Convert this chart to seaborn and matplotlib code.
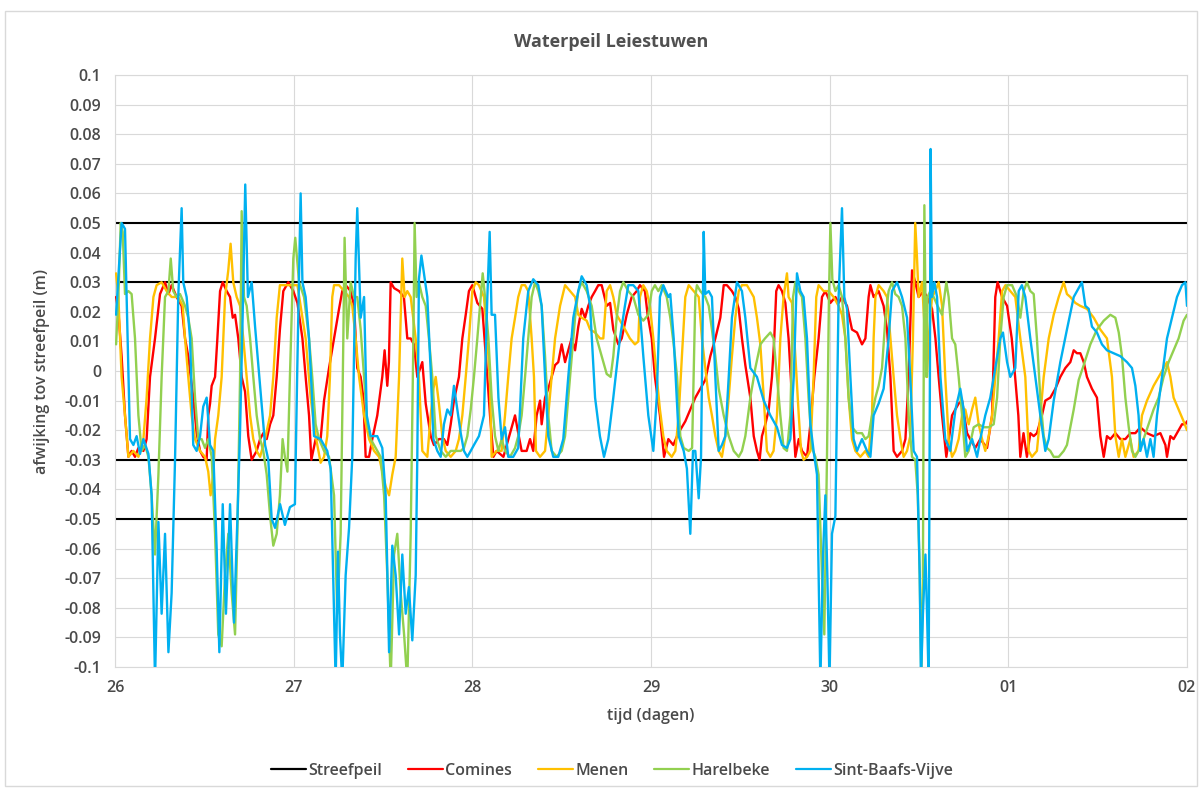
import matplotlib
matplotlib.use("Agg")
import matplotlib.pyplot as plt
from matplotlib.lines import Line2D
from matplotlib.patches import Rectangle
import numpy as np
import pandas as pd
import seaborn as sns

# ---------------- data (time in days since the 26th, level deviation in m) ----------------
x_tick_labels = ["26", "27", "28", "29", "30", "01", "02"]
y_tick_values = [-0.1, -0.09, -0.08, -0.07, -0.06, -0.05, -0.04, -0.03, -0.02, -0.01, 0.0,
                 0.01, 0.02, 0.03, 0.04, 0.05, 0.06, 0.07, 0.08, 0.09, 0.1]
y_tick_labels = ["-0.1", "-0.09", "-0.08", "-0.07", "-0.06", "-0.05", "-0.04", "-0.03", "-0.02", "-0.01", "0",
                 "0.01", "0.02", "0.03", "0.04", "0.05", "0.06", "0.07", "0.08", "0.09", "0.1"]

streefpeil_levels = [0.05, 0.03, -0.03, -0.05]
streefpeil_t = [0.0, 6.0]

comines_t = [0.006,0.019,0.037,0.056,0.075,0.093,0.112,0.131,0.159,0.177,0.196,0.224,0.252,0.280,0.299,0.317,0.345,0.373,0.392,0.410,0.438,0.457,0.476,0.494,0.513,0.522,0.532,0.541,0.560,0.573,0.588,0.603,0.625,0.644,0.659,0.672,0.690,0.709,0.728,0.746,0.765,0.793,0.812,0.830,0.849,0.868,0.886,0.905,0.923,0.942,0.970,0.998,1.021,1.049,1.067,1.086,1.099,1.123,1.151,1.170,1.198,1.226,1.254,1.272,1.291,1.319,1.338,1.356,1.375,1.390,1.403,1.422,1.440,1.468,1.496,1.509,1.524,1.533,1.543,1.562,1.590,1.617,1.636,1.655,1.673,1.692,1.720,1.739,1.767,1.785,1.813,1.841,1.860,1.879,1.897,1.925,1.944,1.963,1.981,2.000,2.028,2.056,2.084,2.099,2.118,2.136,2.174,2.211,2.239,2.257,2.276,2.304,2.323,2.341,2.360,2.379,2.388,2.407,2.425,2.444,2.463,2.481,2.500,2.519,2.537,2.556,2.575,2.593,2.612,2.631,2.649,2.668,2.687,2.705,2.724,2.752,2.771,2.789,2.817,2.836,2.864,2.892,2.920,2.938,2.966,2.981,3.004,3.022,3.050,3.073,3.097,3.125,3.153,3.192,3.220,3.248,3.276,3.304,3.332,3.360,3.388,3.407,3.425,3.453,3.472,3.491,3.509,3.528,3.556,3.575,3.593,3.608,3.621,3.640,3.659,3.677,3.690,3.701,3.714,3.733,3.752,3.770,3.789,3.808,3.827,3.845,3.873,3.892,3.914,3.938,3.957,3.976,4.004,4.032,4.050,4.069,4.097,4.125,4.153,4.181,4.200,4.218,4.228,4.246,4.274,4.302,4.321,4.340,4.358,4.377,4.405,4.424,4.442,4.461,4.479,4.498,4.526,4.545,4.573,4.592,4.610,4.629,4.653,4.672,4.685,4.703,4.722,4.741,4.769,4.787,4.815,4.843,4.881,4.909,4.927,4.940,4.965,4.993,5.019,5.038,5.056,5.067,5.085,5.104,5.123,5.142,5.160,5.188,5.207,5.235,5.263,5.291,5.319,5.347,5.366,5.384,5.403,5.422,5.440,5.468,5.496,5.515,5.534,5.552,5.571,5.599,5.627,5.655,5.683,5.711,5.739,5.776,5.813,5.851,5.879,5.888,5.907,5.925,5.944,5.972,5.991,6.000]
comines_v = [0.025,0.020,0.005,-0.015,-0.029,-0.027,-0.029,-0.026,-0.027,-0.023,-0.002,0.011,0.026,0.030,0.026,0.029,0.025,0.022,0.011,0.005,-0.009,-0.021,-0.027,-0.029,-0.030,-0.015,-0.011,-0.005,-0.002,0.011,0.027,0.030,0.027,0.025,0.018,0.019,0.011,-0.002,-0.007,-0.022,-0.030,-0.027,-0.023,-0.021,-0.023,-0.018,-0.015,-0.002,0.014,0.027,0.030,0.027,0.023,0.011,-0.002,-0.015,-0.030,-0.023,-0.023,-0.010,0.001,0.011,0.021,0.027,0.029,0.027,0.022,0.001,-0.002,-0.009,-0.029,-0.029,-0.023,-0.015,-0.002,0.007,-0.005,0.003,0.030,0.028,0.027,0.025,0.011,0.011,0.009,-0.002,0.003,-0.011,-0.022,-0.025,-0.023,-0.023,-0.025,-0.018,-0.010,-0.002,0.011,0.019,0.027,0.029,0.023,0.021,-0.002,-0.015,-0.029,-0.027,-0.029,-0.021,-0.015,-0.021,-0.027,-0.027,-0.023,-0.027,-0.015,-0.010,-0.018,-0.009,-0.006,-0.002,0.002,0.003,0.009,0.003,0.007,0.011,0.007,0.015,0.021,0.018,0.022,0.025,0.027,0.029,0.029,0.022,0.023,0.014,0.009,0.011,0.019,0.025,0.027,0.029,0.027,0.019,0.011,-0.002,-0.015,-0.029,-0.023,-0.025,-0.021,-0.017,-0.013,-0.009,-0.006,-0.003,0.005,0.011,0.018,0.029,0.029,0.027,0.025,0.021,0.011,0.002,-0.009,-0.022,-0.027,-0.030,-0.022,-0.018,-0.013,-0.002,0.011,0.027,0.029,0.027,0.023,0.011,-0.009,-0.029,-0.023,-0.027,-0.029,-0.018,-0.002,0.011,0.025,0.027,0.023,0.025,0.023,0.025,0.022,0.014,0.013,0.009,0.011,0.025,0.029,0.025,0.027,0.022,0.014,-0.002,-0.027,-0.029,-0.027,-0.023,-0.002,0.034,0.030,0.025,0.027,0.025,0.021,0.011,-0.002,-0.015,-0.029,-0.021,-0.015,-0.013,-0.011,-0.010,-0.021,-0.023,-0.026,-0.023,-0.026,-0.015,0.025,0.030,0.025,0.022,0.011,-0.002,-0.015,-0.029,-0.021,-0.029,-0.021,-0.022,-0.021,-0.015,-0.010,-0.009,-0.006,-0.002,0.001,0.003,0.007,0.006,0.006,0.003,-0.002,-0.006,-0.009,-0.022,-0.029,-0.022,-0.023,-0.021,-0.023,-0.023,-0.021,-0.021,-0.019,-0.021,-0.022,-0.021,-0.025,-0.029,-0.022,-0.023,-0.021,-0.018,-0.018,-0.017]

menen_t = [0.006,0.019,0.037,0.056,0.075,0.103,0.131,0.159,0.177,0.196,0.215,0.233,0.261,0.289,0.317,0.354,0.379,0.392,0.410,0.429,0.448,0.476,0.504,0.522,0.535,0.550,0.560,0.578,0.597,0.616,0.634,0.647,0.662,0.681,0.700,0.718,0.737,0.756,0.774,0.793,0.812,0.840,0.868,0.886,0.905,0.923,0.961,0.998,1.021,1.039,1.067,1.095,1.123,1.151,1.170,1.188,1.203,1.216,1.226,1.254,1.282,1.310,1.328,1.347,1.366,1.394,1.422,1.450,1.478,1.496,1.515,1.534,1.552,1.571,1.590,1.608,1.621,1.636,1.655,1.683,1.701,1.720,1.748,1.767,1.782,1.795,1.813,1.832,1.851,1.879,1.907,1.925,1.944,1.963,1.981,2.000,2.019,2.037,2.065,2.084,2.099,2.108,2.136,2.164,2.183,2.201,2.220,2.239,2.257,2.276,2.295,2.313,2.332,2.345,2.356,2.379,2.407,2.425,2.444,2.463,2.491,2.519,2.547,2.575,2.593,2.612,2.640,2.659,2.687,2.715,2.733,2.752,2.771,2.789,2.808,2.827,2.855,2.882,2.910,2.929,2.938,2.957,2.976,2.994,3.013,3.032,3.050,3.069,3.088,3.116,3.136,3.155,3.173,3.192,3.211,3.239,3.267,3.285,3.304,3.323,3.341,3.360,3.379,3.397,3.416,3.435,3.453,3.472,3.491,3.509,3.537,3.556,3.575,3.593,3.612,3.631,3.649,3.668,3.686,3.705,3.724,3.742,3.761,3.770,3.789,3.808,3.827,3.840,3.854,3.873,3.892,3.910,3.925,3.938,3.966,3.994,4.022,4.050,4.069,4.088,4.106,4.125,4.144,4.172,4.200,4.218,4.237,4.246,4.256,4.274,4.302,4.321,4.340,4.358,4.377,4.396,4.414,4.433,4.451,4.466,4.479,4.489,4.498,4.517,4.535,4.545,4.554,4.573,4.592,4.610,4.629,4.647,4.666,4.685,4.703,4.722,4.741,4.759,4.778,4.797,4.815,4.834,4.853,4.871,4.890,4.909,4.927,4.946,4.965,4.984,5.011,5.039,5.067,5.095,5.114,5.132,5.160,5.179,5.198,5.226,5.254,5.282,5.310,5.328,5.347,5.375,5.403,5.440,5.478,5.515,5.552,5.580,5.599,5.618,5.636,5.655,5.683,5.701,5.729,5.748,5.776,5.813,5.851,5.888,5.907,5.925,5.953,5.981,6.000]
menen_v = [0.033,0.025,-0.002,-0.015,-0.029,-0.027,-0.029,-0.023,-0.009,0.011,0.025,0.029,0.030,0.027,0.025,0.025,0.022,0.011,-0.002,-0.015,-0.023,-0.027,-0.029,-0.034,-0.042,-0.035,-0.023,-0.015,-0.002,0.025,0.034,0.043,0.030,0.025,0.022,0.011,-0.002,-0.015,-0.023,-0.027,-0.029,-0.023,-0.015,-0.002,0.018,0.029,0.029,0.029,0.029,0.022,0.011,-0.009,-0.022,-0.031,-0.029,-0.022,-0.002,0.025,0.029,0.029,0.027,0.025,0.022,0.011,-0.002,-0.015,-0.023,-0.027,-0.029,-0.034,-0.039,-0.042,-0.035,-0.029,-0.002,0.038,0.025,0.027,0.025,0.011,-0.002,-0.027,-0.029,-0.015,-0.006,-0.002,-0.011,-0.022,-0.027,-0.029,-0.027,-0.023,-0.015,-0.002,0.011,0.027,0.030,0.029,0.025,0.011,-0.005,-0.029,-0.027,-0.027,-0.015,-0.002,0.011,0.018,0.025,0.029,0.029,0.027,0.011,-0.002,-0.027,-0.029,-0.027,-0.015,-0.002,0.011,0.022,0.029,0.027,0.025,0.019,0.018,0.017,0.014,0.013,0.011,0.011,0.027,0.029,0.025,0.019,0.017,0.014,0.011,0.009,0.010,0.025,0.029,0.027,0.022,0.011,-0.002,-0.013,-0.022,-0.027,-0.029,-0.027,-0.015,0.005,0.025,0.029,0.027,0.025,0.011,0.001,-0.009,-0.015,-0.022,-0.027,-0.029,-0.022,-0.009,0.005,0.018,0.027,0.029,0.029,0.027,0.025,0.018,0.009,-0.009,-0.027,-0.029,-0.027,-0.015,0.011,0.025,0.033,0.025,0.023,0.005,-0.015,-0.027,-0.030,-0.029,-0.027,-0.002,0.025,0.029,0.027,0.027,0.025,0.022,0.019,0.011,-0.009,-0.023,-0.027,-0.029,-0.027,-0.029,-0.015,0.011,0.025,0.029,0.027,0.025,0.011,-0.002,-0.015,-0.023,-0.029,-0.027,-0.022,0.011,0.050,0.038,0.025,0.030,0.011,-0.002,0.011,0.025,0.027,0.030,0.022,-0.002,-0.023,-0.029,-0.027,-0.023,-0.015,-0.013,-0.018,-0.013,-0.009,-0.018,-0.023,-0.027,-0.022,-0.015,-0.002,0.011,0.027,0.029,0.027,0.025,0.011,-0.002,-0.027,-0.029,-0.027,-0.015,-0.002,0.011,0.019,0.025,0.030,0.026,0.025,0.023,0.022,0.021,0.018,0.014,0.011,-0.002,-0.022,-0.029,-0.023,-0.029,-0.023,-0.029,-0.027,-0.015,-0.010,-0.005,-0.001,0.003,-0.002,-0.009,-0.013,-0.017,-0.020]

harelbeke_t = [0.006,0.019,0.032,0.043,0.056,0.075,0.093,0.112,0.131,0.149,0.168,0.187,0.205,0.224,0.243,0.261,0.280,0.299,0.312,0.326,0.345,0.364,0.392,0.410,0.429,0.448,0.466,0.485,0.504,0.522,0.541,0.560,0.578,0.597,0.616,0.634,0.653,0.672,0.685,0.700,0.709,0.722,0.737,0.756,0.774,0.793,0.812,0.830,0.849,0.868,0.886,0.905,0.923,0.938,0.951,0.965,0.979,0.998,1.009,1.030,1.058,1.086,1.104,1.123,1.142,1.170,1.198,1.226,1.244,1.263,1.278,1.285,1.300,1.319,1.338,1.356,1.375,1.394,1.412,1.431,1.459,1.487,1.506,1.524,1.543,1.562,1.580,1.599,1.618,1.636,1.655,1.670,1.677,1.688,1.701,1.720,1.739,1.757,1.776,1.795,1.823,1.851,1.879,1.907,1.935,1.953,1.972,1.991,2.009,2.028,2.047,2.058,2.071,2.090,2.108,2.127,2.146,2.164,2.183,2.211,2.239,2.257,2.276,2.295,2.313,2.332,2.351,2.369,2.388,2.407,2.425,2.444,2.472,2.500,2.519,2.537,2.556,2.575,2.593,2.612,2.640,2.668,2.696,2.724,2.752,2.774,2.789,2.808,2.827,2.845,2.873,2.901,2.929,2.957,2.985,3.004,3.022,3.041,3.060,3.088,3.108,3.127,3.146,3.164,3.183,3.211,3.230,3.248,3.257,3.276,3.304,3.323,3.341,3.360,3.379,3.407,3.435,3.463,3.491,3.509,3.528,3.556,3.584,3.612,3.638,3.668,3.686,3.705,3.724,3.742,3.761,3.780,3.795,3.808,3.827,3.845,3.864,3.882,3.901,3.920,3.938,3.957,3.970,3.985,3.996,4.004,4.015,4.032,4.050,4.069,4.088,4.106,4.125,4.153,4.181,4.200,4.218,4.237,4.256,4.274,4.293,4.312,4.330,4.349,4.367,4.386,4.405,4.424,4.442,4.461,4.479,4.493,4.504,4.513,4.522,4.530,4.541,4.548,4.563,4.582,4.604,4.629,4.653,4.666,4.685,4.703,4.722,4.741,4.759,4.778,4.806,4.834,4.862,4.890,4.918,4.937,4.955,4.974,4.993,5.021,5.049,5.067,5.086,5.104,5.123,5.142,5.160,5.179,5.198,5.216,5.235,5.254,5.282,5.310,5.328,5.347,5.366,5.394,5.422,5.459,5.496,5.534,5.571,5.599,5.618,5.636,5.655,5.674,5.692,5.711,5.729,5.757,5.785,5.813,5.841,5.869,5.897,5.925,5.953,5.981,6.000]
harelbeke_v = [0.009,0.025,0.050,0.047,0.026,0.027,0.026,0.011,-0.015,-0.027,-0.025,-0.029,-0.042,-0.062,-0.035,-0.002,0.025,0.027,0.038,0.027,0.025,0.026,0.022,0.018,0.011,-0.009,-0.023,-0.023,-0.026,-0.023,-0.029,-0.055,-0.089,-0.093,-0.069,-0.055,-0.075,-0.089,-0.055,-0.002,0.054,0.025,0.022,0.011,-0.002,-0.015,-0.023,-0.027,-0.035,-0.049,-0.059,-0.055,-0.042,-0.023,-0.029,-0.034,-0.002,0.038,0.045,0.030,0.025,0.011,-0.002,-0.018,-0.023,-0.027,-0.029,-0.042,-0.082,-0.055,0.011,0.045,0.011,0.030,0.025,0.025,0.014,-0.002,-0.018,-0.023,-0.026,-0.029,-0.042,-0.069,-0.105,-0.062,-0.055,-0.075,-0.089,-0.105,-0.055,0.011,0.050,0.025,0.030,0.025,0.022,0.011,-0.002,-0.022,-0.027,-0.029,-0.027,-0.027,-0.027,-0.026,-0.022,-0.013,-0.002,0.011,0.025,0.033,0.025,0.011,-0.009,-0.022,-0.027,-0.023,-0.027,-0.029,-0.026,-0.022,-0.015,-0.002,0.011,0.025,0.030,0.027,0.022,0.005,-0.015,-0.027,-0.029,-0.027,-0.022,-0.009,0.005,0.018,0.027,0.030,0.027,0.022,0.011,0.005,-0.001,-0.002,0.005,0.018,0.027,0.030,0.027,0.025,0.019,0.017,0.019,0.027,0.029,0.027,0.029,0.025,0.018,0.009,-0.002,-0.022,-0.026,-0.027,-0.026,0.025,0.029,0.027,0.025,0.022,0.014,0.005,-0.006,-0.015,-0.022,-0.027,-0.029,-0.027,-0.022,-0.009,0.001,0.009,0.011,0.013,0.011,-0.002,-0.015,-0.026,-0.027,-0.015,0.025,0.030,0.027,0.025,0.011,-0.009,-0.026,-0.029,-0.035,-0.069,-0.089,-0.029,0.025,0.050,0.031,0.027,0.029,0.025,0.011,-0.009,-0.019,-0.021,-0.021,-0.023,-0.022,-0.015,-0.009,-0.005,0.001,0.018,0.027,0.030,0.026,0.025,0.022,0.011,-0.015,-0.029,-0.030,-0.042,-0.069,-0.105,-0.069,0.056,-0.002,0.025,0.027,0.025,0.022,0.019,0.030,0.025,0.011,0.009,-0.002,-0.015,-0.029,-0.027,-0.019,-0.018,-0.019,-0.019,-0.018,-0.009,0.011,0.025,0.029,0.029,0.025,0.018,0.027,0.030,0.027,0.026,0.011,-0.009,-0.022,-0.026,-0.027,-0.029,-0.029,-0.027,-0.025,-0.019,-0.013,-0.003,0.002,0.009,0.014,0.017,0.019,0.018,0.013,0.005,-0.009,-0.019,-0.027,-0.029,-0.027,-0.023,-0.018,-0.013,-0.009,-0.002,0.003,0.007,0.011,0.017,0.019]

sbv_t = [0.006,0.037,0.056,0.084,0.103,0.121,0.140,0.159,0.187,0.205,0.224,0.243,0.261,0.280,0.299,0.317,0.336,0.354,0.373,0.382,0.401,0.420,0.438,0.457,0.476,0.494,0.513,0.532,0.550,0.569,0.584,0.603,0.621,0.644,0.666,0.685,0.700,0.715,0.729,0.744,0.765,0.784,0.812,0.840,0.858,0.877,0.896,0.924,0.951,0.979,1.007,1.020,1.039,1.049,1.067,1.086,1.114,1.151,1.188,1.207,1.226,1.235,1.248,1.259,1.272,1.291,1.310,1.328,1.347,1.356,1.375,1.394,1.409,1.431,1.468,1.496,1.515,1.534,1.552,1.571,1.590,1.608,1.627,1.645,1.664,1.683,1.692,1.701,1.715,1.729,1.748,1.767,1.782,1.804,1.823,1.841,1.860,1.879,1.897,1.916,1.935,1.953,1.972,1.991,2.009,2.037,2.065,2.084,2.097,2.108,2.127,2.146,2.164,2.183,2.201,2.229,2.257,2.285,2.313,2.341,2.369,2.388,2.407,2.425,2.453,2.481,2.509,2.537,2.565,2.593,2.612,2.640,2.659,2.687,2.714,2.737,2.761,2.789,2.826,2.854,2.873,2.901,2.929,2.957,2.985,3.013,3.032,3.050,3.069,3.097,3.108,3.127,3.155,3.183,3.201,3.220,3.235,3.248,3.267,3.280,3.295,3.304,3.323,3.341,3.360,3.379,3.397,3.416,3.435,3.453,3.481,3.509,3.528,3.556,3.593,3.631,3.668,3.705,3.733,3.761,3.780,3.799,3.817,3.836,3.854,3.873,3.892,3.910,3.929,3.948,3.963,3.976,3.987,3.999,4.013,4.032,4.050,4.069,4.082,4.097,4.116,4.134,4.153,4.181,4.209,4.228,4.246,4.274,4.302,4.330,4.349,4.377,4.405,4.433,4.451,4.470,4.489,4.504,4.511,4.522,4.536,4.545,4.554,4.561,4.565,4.572,4.586,4.601,4.620,4.647,4.675,4.704,4.731,4.750,4.769,4.797,4.825,4.843,4.871,4.899,4.927,4.955,4.970,4.993,5.011,5.039,5.058,5.076,5.095,5.123,5.151,5.179,5.207,5.226,5.254,5.291,5.328,5.366,5.412,5.431,5.450,5.468,5.496,5.524,5.552,5.590,5.627,5.664,5.692,5.711,5.729,5.739,5.757,5.776,5.795,5.813,5.832,5.860,5.888,5.916,5.944,5.972,5.991,6.000]
sbv_v = [0.019,0.050,0.048,-0.023,-0.025,-0.022,-0.028,-0.023,-0.028,-0.042,-0.105,-0.051,-0.082,-0.055,-0.095,-0.075,-0.030,0.025,0.055,0.030,0.025,0.011,-0.025,-0.027,-0.022,-0.012,-0.009,-0.025,-0.027,-0.060,-0.095,-0.045,-0.082,-0.045,-0.085,-0.050,-0.020,0.020,0.063,0.025,0.030,0.015,-0.005,-0.025,-0.030,-0.050,-0.053,-0.045,-0.052,-0.046,-0.045,0.000,0.060,0.030,0.025,0.011,-0.022,-0.023,-0.027,-0.033,-0.082,-0.105,-0.061,-0.089,-0.105,-0.069,-0.053,-0.029,0.038,0.055,0.018,0.025,-0.015,-0.022,-0.022,-0.026,-0.042,-0.095,-0.059,-0.069,-0.089,-0.062,-0.082,-0.073,-0.091,-0.069,-0.029,0.031,0.039,0.033,0.025,0.000,-0.023,-0.027,-0.029,-0.018,-0.013,-0.015,-0.005,-0.013,-0.021,-0.027,-0.029,-0.027,-0.025,-0.022,-0.015,0.025,0.047,0.019,0.019,-0.009,-0.023,-0.019,-0.029,-0.029,-0.026,0.011,0.027,0.031,0.029,0.022,-0.002,-0.022,-0.029,-0.029,-0.023,-0.002,0.018,0.027,0.032,0.029,0.022,-0.009,-0.022,-0.029,-0.023,-0.009,0.011,0.022,0.029,0.029,0.027,0.005,-0.015,-0.027,-0.009,0.025,0.029,0.025,0.026,0.011,-0.022,-0.027,-0.033,-0.055,-0.027,-0.027,-0.043,-0.029,0.047,0.026,0.027,0.025,-0.002,-0.027,-0.025,-0.022,-0.002,0.018,0.030,0.027,0.018,0.001,-0.002,-0.010,-0.015,-0.019,-0.025,-0.026,-0.023,-0.002,0.033,0.027,0.025,0.011,-0.018,-0.027,-0.035,-0.105,-0.062,-0.042,-0.069,-0.105,-0.055,-0.049,0.025,0.055,0.025,0.021,-0.002,-0.023,-0.027,-0.023,-0.027,-0.029,-0.015,-0.011,-0.006,0.011,0.027,0.030,0.025,0.018,-0.002,-0.027,-0.029,-0.069,-0.105,-0.082,-0.062,-0.082,-0.105,-0.002,0.075,0.025,0.030,0.025,-0.002,-0.023,-0.027,-0.013,-0.006,-0.013,-0.027,-0.023,-0.029,-0.023,-0.015,-0.009,0.001,0.011,0.013,0.003,-0.002,0.001,0.027,0.029,0.025,0.011,-0.002,-0.015,-0.027,-0.023,-0.010,0.003,0.014,0.025,0.030,0.022,0.021,0.015,0.013,0.009,0.007,0.006,0.005,0.003,0.001,-0.005,-0.015,-0.027,-0.023,-0.029,-0.023,-0.029,-0.015,-0.002,0.011,0.018,0.025,0.029,0.030,0.022]

series_names = ["Comines", "Menen", "Harelbeke", "Sint-Baafs-Vijve"]
series_t = [comines_t, menen_t, harelbeke_t, sbv_t]
series_v = [comines_v, menen_v, harelbeke_v, sbv_v]

# ---------------- style ----------------
colors = {"Streefpeil": "#000000", "Comines": "#ff0000", "Menen": "#ffc000",
          "Harelbeke": "#92d050", "Sint-Baafs-Vijve": "#00b0f0"}

sns.set_theme(style="white")
plt.rcParams["font.family"] = ["Open Sans", "DejaVu Sans"]
text_col = "#4a4a4a"
grid_col = "#d9d9d9"
fw = "semibold"

W, H = 1203, 791
fig = plt.figure(figsize=(W / 100, H / 100), dpi=100)
fig.patch.set_facecolor("white")
fig.patches.append(Rectangle((5 / W, 1 - 786 / H), 1192 / W, 775 / H, transform=fig.transFigure,
                             fill=False, edgecolor="#d9d9d9", linewidth=1.0))

ax = fig.add_axes([115 / W, 1 - 667 / H, (1187 - 115) / W, (667 - 75) / H])
ax.set_facecolor("white")

# Streefpeil band lines
sp = pd.DataFrame({
    "t": [t for lvl in streefpeil_levels for t in streefpeil_t],
    "v": [lvl for lvl in streefpeil_levels for _ in streefpeil_t],
    "lvl": [str(lvl) for lvl in streefpeil_levels for _ in streefpeil_t],
})
sns.lineplot(data=sp, x="t", y="v", units="lvl", estimator=None, sort=False,
             color=colors["Streefpeil"], linewidth=1.5, ax=ax, legend=False, zorder=2)

for name, tt, vv in zip(series_names, series_t, series_v):
    df = pd.DataFrame({"t": tt, "v": vv})
    sns.lineplot(data=df, x="t", y="v", estimator=None, sort=False, color=colors[name],
                 linewidth=1.7, ax=ax, legend=False, zorder=3)

ax.set_xlim(0, 6)
ax.set_ylim(-0.1, 0.1)
ax.set_xticks(range(len(x_tick_labels)))
ax.set_xticklabels(x_tick_labels)
ax.set_yticks(y_tick_values)
ax.set_yticklabels(y_tick_labels)
ax.tick_params(axis="both", length=0, labelsize=11.5, colors=text_col)
ax.tick_params(axis="y", pad=10)
ax.tick_params(axis="x", pad=9)
for lab in ax.get_xticklabels() + ax.get_yticklabels():
    lab.set_fontweight(fw)
ax.grid(True, color=grid_col, linewidth=0.8)
ax.set_axisbelow(True)
for s in ax.spines.values():
    s.set_color(grid_col)
    s.set_linewidth(0.8)

ax.set_xlabel("tijd (dagen)", fontsize=11.5, color=text_col, labelpad=9, fontweight=fw)
ax.set_ylabel("afwijking tov streefpeil (m)", fontsize=11.5, color=text_col, labelpad=10, fontweight=fw)
fig.text(611 / W, 1 - 42 / H, "Waterpeil Leiestuwen", ha="center", va="center",
         fontsize=13, fontweight="bold", color="#505050")

handles = [Line2D([0], [0], color=colors[n], lw=1.6) for n in ["Streefpeil"] + series_names]
leg = fig.legend(handles, ["Streefpeil"] + series_names, loc="center", bbox_to_anchor=(612 / W, 1 - 771 / H),
                 ncol=5, frameon=False, fontsize=11.5, labelcolor=text_col, handlelength=2.2,
                 handletextpad=0.15, columnspacing=1.6)
for t in leg.get_texts():
    t.set_fontweight(fw)

fig.savefig("out.png", dpi=100, facecolor="white")
